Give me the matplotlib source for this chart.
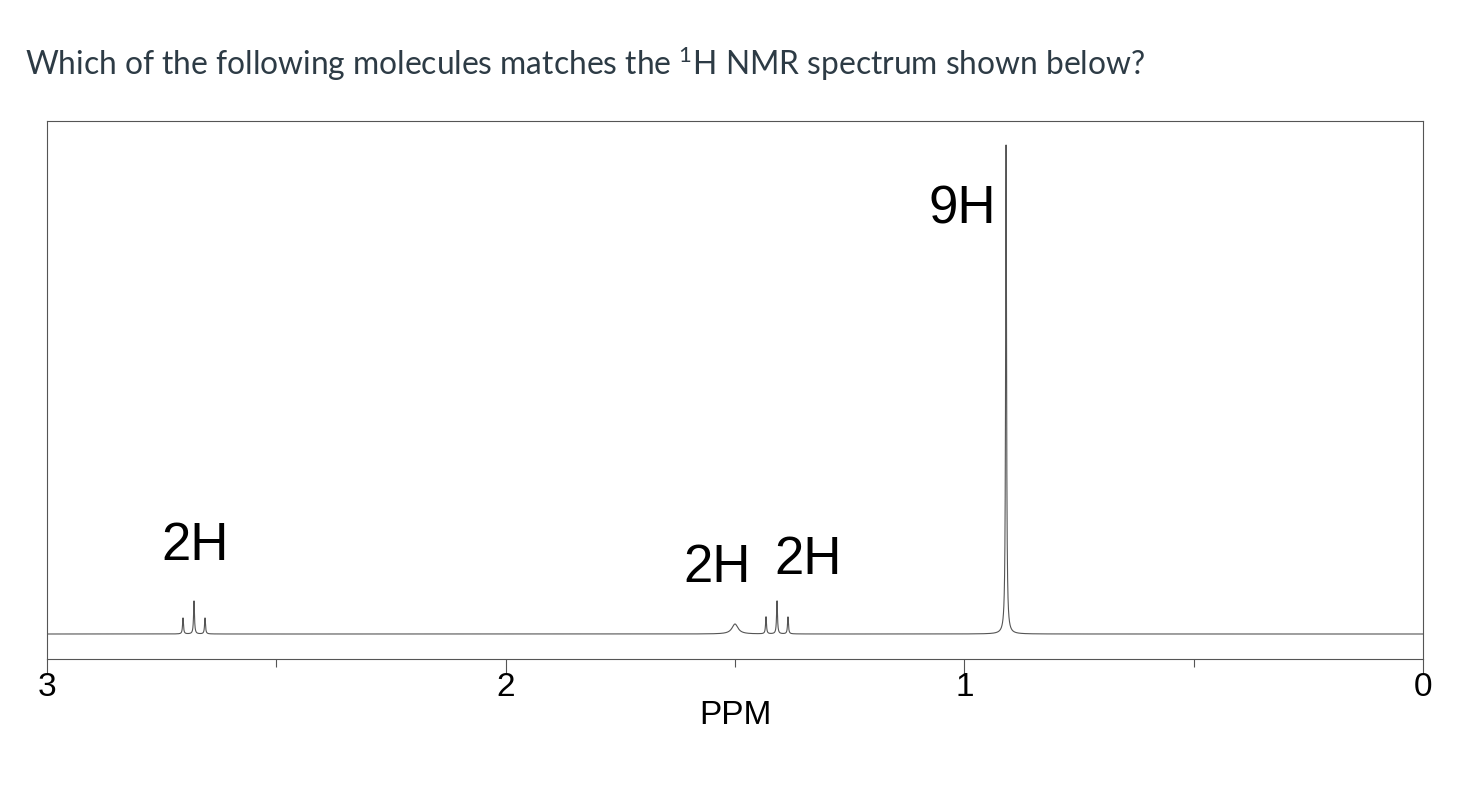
import numpy as np
import matplotlib.pyplot as plt

plt.rcParams['mathtext.fontset'] = 'custom'
plt.rcParams['mathtext.rm'] = 'Lato'

# peak list: shift (ppm), height (px above baseline), half width (ppm)
shifts = [2.7035, 2.6795, 2.6555, 1.500, 1.4324, 1.4084, 1.3845, 0.909]
heights = [16, 33, 16, 10, 17, 33, 17, 489]
widths = [0.0012, 0.0012, 0.0012, 0.008, 0.0012, 0.0012, 0.0012, 0.0012]

labels = ['2H', '2H', '2H', '9H']
label_x = [2.677, 1.539, 1.341, 1.005]
label_y = [88, 66, 74, 425]

ppm = np.linspace(3, 0, 300001)
ppm = np.sort(np.concatenate([ppm, shifts]))[::-1]
spec = np.zeros_like(ppm)
for s, h, w in zip(shifts, heights, widths):
    spec += h * w**2 / ((ppm - s)**2 + w**2)

fig = plt.figure(figsize=(14.62, 7.88), dpi=100)
ax = fig.add_axes([47/1462, 1-659/788, 1376/1462, 538/788])

ax.plot(ppm, spec, color='#555555', lw=0.8)
ax.set_xlim(3, 0)
ax.set_ylim(-25, 513)

for t, x, y in zip(labels, label_x, label_y):
    ax.text(x, y, t, fontsize=38, family='Liberation Sans', ha='center', va='center', color='black')

ax.set_xticks([3, 2, 1, 0])
ax.set_xticklabels(['3', '2', '1', '0'], fontsize=24, family='Liberation Sans')
ax.set_xticks([2.5, 1.5, 0.5], minor=True)
ax.tick_params(axis='x', which='major', direction='out', length=10, width=0.8, color='#555555', pad=-1)
ax.tick_params(axis='x', which='minor', direction='out', length=6, width=0.8, color='#555555')
ax.set_yticks([])
ax.set_xlabel('PPM', fontsize=24, family='Liberation Sans', labelpad=-2)
for sp in ax.spines.values():
    sp.set_color('#555555')
    sp.set_linewidth(0.8)

fig.text(25/1462, 1-64/788, 'Which of the following molecules matches the $\\mathregular{^1}$H NMR spectrum shown below?',
         fontsize=22.9, family='Lato', color='#2d3b45', va='center', ha='left')

fig.savefig('out.png', dpi=100)
